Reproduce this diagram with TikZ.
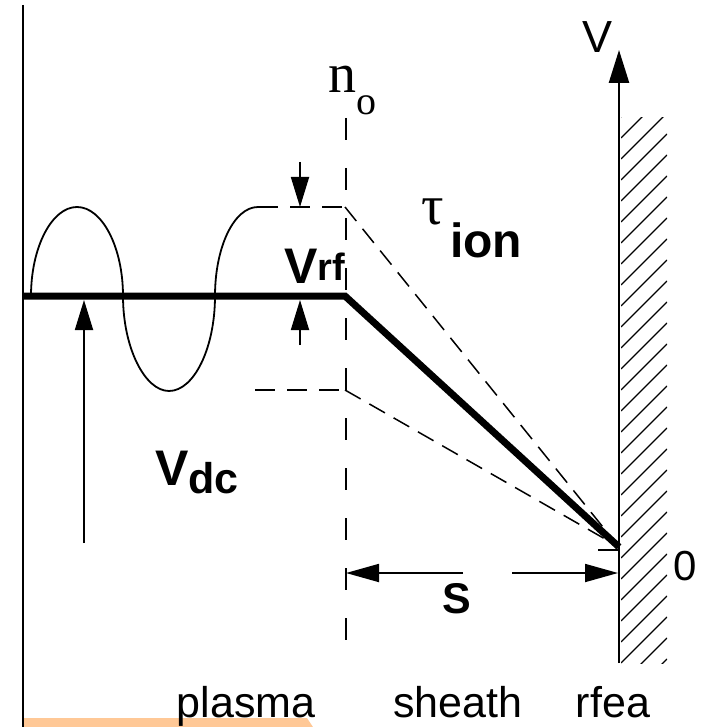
\documentclass[tikz,border=0pt]{standalone}
\usepackage{fontspec}
\setmainfont{Liberation Sans}
\newfontfamily\serifgreek{Liberation Serif}
\usetikzlibrary{arrows.meta,positioning,calc}
\definecolor{peach}{RGB}{255,200,150}

\begin{document}
\begin{tikzpicture}[x=1pt, y=-1pt,
    thinline/.style={line width=1.8pt},
    thickline/.style={line width=7pt, line join=miter},
    guide/.style={line width=1.8pt, dash pattern=on 20pt off 12pt},
    slope/.style={line width=1.5pt, dash pattern=on 18pt off 10pt},
    tip/.style={thinline, -{Triangle[length=30pt, width=18pt]}},
    lbl/.style={inner sep=0pt, anchor=base},
    big/.style={font=\fontsize{43}{43}\selectfont},
    bold/.style={font=\fontsize{50}{50}\selectfont\bfseries},
]
  \useasboundingbox (0,0) rectangle (709,727);

  % key points
  \coordinate (plasma0) at (23,296);
  \coordinate (knee)    at (345,296);
  \coordinate (ground)  at (619,547);
  \coordinate (rfhigh)  at (345,207);
  \coordinate (rflow)   at (345,390);
  \coordinate (crest)   at (258,207);
  \coordinate (trough)  at (255,390);

  % orange strip and left border
  \fill[peach] (23,718) -- (307,718) -- (313,727) -- (23,727) -- cycle;
  \draw[line width=1.6pt] (23,5) -- (23,727);

  % rf oscillation
  \draw[thinline] (31,296) .. controls (31,247) and (52,207) .. (77,207)
                           .. controls (102,207) and (123,247) .. (123,296)
                           .. controls (123,348) and (145,391) .. (169,391)
                           .. controls (194,391) and (215,348) .. (215,296)
                           .. controls (215,247) and (234,207) .. (crest);
  \draw[guide] (crest) -- (rfhigh);
  \draw[guide] (trough) -- (rflow);

  % sheath edge
  \coordinate (edgetop) at (346,118);
  \coordinate (edgebot) at (346,650);
  \draw[line width=1.8pt, dash pattern=on 22pt off 28pt] (edgetop) -- (edgebot);
  \node[lbl, anchor=base west] (dens) at (328,93)
    {\serifgreek\fontsize{56}{56}\selectfont n\raisebox{-22pt}{\fontsize{40}{40}\selectfont o}};

  % potential
  \draw[slope] (rfhigh) -- (ground);
  \draw[slope] (rflow) -- (ground);
  \draw[thickline] (plasma0) -- (knee) -- (ground);
  \draw[line width=2pt] (598,550) -- (619,550);

  % wall with axis
  \coordinate (wallbot) at (619,663);
  \coordinate (walltop) at (619,50);
  \begin{scope}
    \clip (621,118) rectangle (667,663);
    \foreach \y in {12,33,...,720}
      \draw[line width=1.1pt] (621,\y) -- (667,\y-46);
  \end{scope}
  \draw[line width=2.5pt, -{Triangle[length=33pt, width=20pt]}] (wallbot) -- (walltop);
  \node[lbl, font=\fontsize{45}{45}\selectfont] (vaxis) at (597,53) {V};
  \node[lbl, font=\fontsize{42}{42}\selectfont] (zero) at (685,580) {0};

  % Vrf arrows
  \coordinate (rfa) at (300,162);
  \coordinate (rfb) at (300,207);
  \coordinate (rfc) at (300,345);
  \coordinate (rfd) at (300,300);
  \draw[tip] (rfa) -- (rfb);
  \draw[tip] (rfc) -- (rfd);
  \node[lbl, anchor=base west, bold] (vrf) at (284,283)
    {V\raisebox{3pt}{\fontsize{38}{38}\selectfont rf}};

  % Vdc arrow
  \coordinate (dca) at (84,543);
  \coordinate (dcb) at (84,300);
  \draw[tip] (dca) -- (dcb);
  \node[lbl, anchor=base west, font=\fontsize{50}{50}\selectfont\bfseries] (vdc) at (155,485)
    {V\raisebox{-8pt}{\fontsize{43}{43}\selectfont dc}};

  % ion transit time
  \node[lbl, anchor=base west, font=\serifgreek\fontsize{56}{56}\selectfont] (tau) at (421,225) {τ};
  \node[lbl, anchor=base west, font=\fontsize{48}{48}\selectfont\bfseries] (ion) at (450,257) {ion};

  % sheath width
  \coordinate (sa) at (463,573);
  \coordinate (sb) at (346,573);
  \coordinate (sc) at (512,573);
  \coordinate (sd) at (618,573);
  \draw[thinline, -{Triangle[length=33pt, width=18pt]}] (sa) -- (sb);
  \draw[thinline, -{Triangle[length=33pt, width=18pt]}] (sc) -- (sd);
  \node[lbl, font=\fontsize{43}{43}\selectfont\bfseries] (swidth) at (457,613) {S};

  % region names
  \node[lbl, big] (plasma) at (246,717) {plasma};
  \node[lbl, big] (sheath) at (458,717) {sheath};
  \node[lbl, big] (rfea)   at (613,717) {rfea};
\end{tikzpicture}
\end{document}
